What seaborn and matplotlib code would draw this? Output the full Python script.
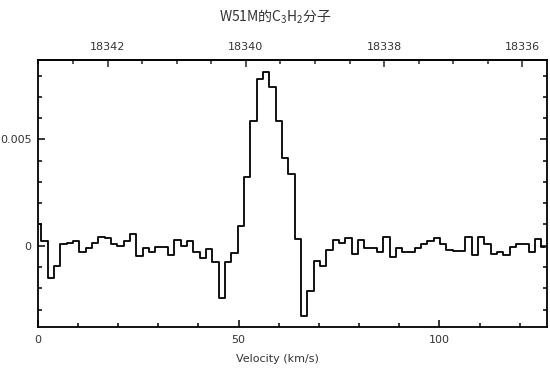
import numpy as np
import pandas as pd
import matplotlib
matplotlib.use("Agg")
import matplotlib.pyplot as plt
from matplotlib.ticker import MultipleLocator, FuncFormatter, FixedLocator
import seaborn as sns

# ---- data (flux in units of 1e-3) ----
chan_start_v = 0.16      # km/s, centre of first channel
chan_width_v = 1.575     # km/s
flux_milli = [
    1.02, 0.23, -1.53, -0.94, 0.08, 0.14, 0.23, -0.30, -0.09, 0.14,
    0.42, 0.35, 0.07, -0.01, 0.23, 0.55, -0.48, -0.12, -0.28, -0.05,
    -0.08, -0.44, 0.28, 0.00, 0.23, -0.28, -0.56, -0.16, -0.75, -2.44,
    -0.77, -0.36, 0.94, 3.21, 5.86, 7.83, 8.15, 7.44, 5.86, 4.12,
    3.37, 0.31, -3.29, -2.11, -0.70, -0.97, -0.20, 0.27, 0.11, 0.38,
    -0.40, 0.27, -0.12, -0.09, -0.28, 0.42, -0.52, -0.10, -0.28, -0.28,
    -0.10, 0.10, 0.21, 0.35, 0.10, -0.20, -0.24, -0.24, 0.40, -0.45,
    0.40, 0.10, -0.38, -0.28, -0.45, -0.05, 0.10, 0.10, -0.28, 0.30,
    -0.05,
]
velocity = chan_start_v + chan_width_v * np.arange(len(flux_milli))
flux = np.array(flux_milli) * 1e-3

top_ticks = [18342, 18340, 18338, 18336]
f0, k = 18343.01, 0.0581

title = "W51M的C$_3$H$_2$分子"
xlabel = "Velocity (km/s)"

sns.set_style("ticks")
plt.rcParams["font.family"] = ["DejaVu Sans"]
plt.rcParams["mathtext.fontset"] = "custom"
plt.rcParams["mathtext.rm"] = "Noto Sans CJK SC"
plt.rcParams["mathtext.it"] = "Noto Sans CJK SC"

txt = "#333333"
fig = plt.figure(figsize=(5.5, 3.82), dpi=100)
ax = fig.add_axes([0.0685, 0.144, 0.9255, 0.699])

df = pd.DataFrame({"v": velocity, "f": flux})
sns.lineplot(data=df, x="v", y="f", ax=ax, drawstyle="steps-mid",
             color="black", lw=1.3, estimator=None, sort=False)

ax.set_xlim(0, 126.7)
ax.set_ylim(-0.00382, 0.00873)
ax.xaxis.set_major_locator(MultipleLocator(50))
ax.xaxis.set_minor_locator(MultipleLocator(10))
ax.yaxis.set_major_locator(MultipleLocator(0.005))
ax.yaxis.set_minor_locator(MultipleLocator(0.001))
ax.yaxis.set_major_formatter(FuncFormatter(lambda v, p: "0" if abs(v) < 1e-12 else f"{v:g}"))
ax.tick_params(which="both", direction="in", top=False, right=True,
               colors="black", labelcolor=txt, labelsize=8, width=1.1)
ax.tick_params(which="major", length=5)
ax.tick_params(which="minor", length=3)
ax.tick_params(axis="x", pad=6)
ax.tick_params(axis="y", pad=4.5)
for s in ax.spines.values():
    s.set_linewidth(1.3)
    s.set_color("black")

sec = ax.secondary_xaxis("top", functions=(lambda v: f0 - k * v, lambda f: (f0 - f) / k))
sec.xaxis.set_major_locator(FixedLocator(top_ticks))
sec.xaxis.set_minor_locator(MultipleLocator(0.5))
sec.xaxis.set_major_formatter(FuncFormatter(lambda v, p: f"{v:.0f}"))
sec.tick_params(which="both", direction="in", labelcolor=txt, labelsize=8, width=1.1, pad=6)
sec.tick_params(which="major", length=5)
sec.tick_params(which="minor", length=3)
sec.spines["top"].set_linewidth(1.3)

ax.set_xlabel(xlabel, color=txt, fontsize=8)
ax.xaxis.set_label_coords(0.471, -0.10)
ax.set_ylabel("")
fig.text(0.5, 0.955, title, ha="center", va="center", fontsize=10, color=txt,
         family=["Noto Sans CJK SC", "DejaVu Sans"])

fig.savefig("out.png", dpi=100)
